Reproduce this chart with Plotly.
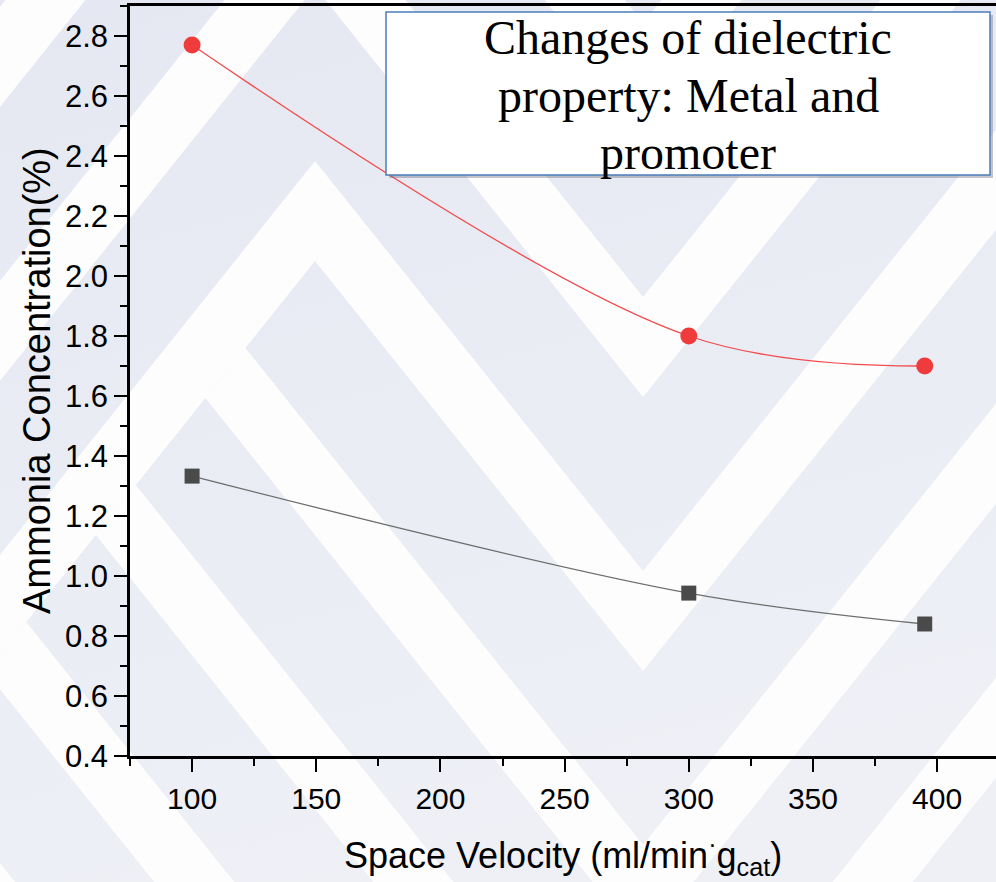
import base64
import plotly.graph_objects as go

# ---------------- data ----------------
space_velocity = [100, 300, 395]
metal_promoter = [2.77, 1.80, 1.70]     # red circles
base_catalyst = [1.333, 0.943, 0.84]    # dark squares

x_range = [75, 423.7]
y_range = [0.4, 2.9]
y_ticks = [0.4, 0.6, 0.8, 1.0, 1.2, 1.4, 1.6, 1.8, 2.0, 2.2, 2.4, 2.6, 2.8]
x_ticks = [100, 150, 200, 250, 300, 350, 400]

title_lines = ["Changes of dielectric", "property: Metal and", "promoter"]

# ---------------- figure geometry ----------------
W, H = 996, 882
ML, MR, MT, MB = 130, 0, 6, 126
PW, PH = W - ML - MR, H - MT - MB


def px_to_paper(px, py):
    return (px - ML) / PW, (H - MB - py) / PH


# ---------------- background watermark (decoration) ----------------
K = 1.25       # slope of the chevron stripes
PEAK = 315     # x of the ^ apexes
VAL = 643      # x of the V vertices
T = 100        # vertical thickness of white stripes
P = 274        # vertical period
XR = 1100


def poly(pts):
    return '<polygon points="%s" fill="#fdfdfe"/>' % " ".join("%.1f,%.1f" % p for p in pts)


polys = []
for apex in [161 - 2 * P, 161 - P, 161]:
    polys.append(poly([(-200, apex + K * (PEAK + 200)), (PEAK, apex), (PEAK, apex + T),
                       (-200, apex + T + K * (PEAK + 200))]))
    yv = apex + K * (VAL - PEAK)
    polys.append(poly([(PEAK, apex), (VAL, yv), (VAL, yv + T), (PEAK, apex + T)]))
    polys.append(poly([(VAL, yv), (XR, yv - K * (XR - VAL)), (XR, yv + T - K * (XR - VAL)),
                       (VAL, yv + T)]))
for j in range(1, 5):
    top = 161 + j * P
    xu = PEAK + (T - j * P) / (2 * K)
    xl = PEAK - j * P / (2 * K)
    yu = top + K * (xu - PEAK)
    yl = top + T + K * (xl - PEAK)
    yv = top + K * (VAL - PEAK)
    polys.append(poly([(xu, yu), (VAL, yv), (VAL, yv + T), (xl, yl)]))
    polys.append(poly([(VAL, yv), (XR, yv - K * (XR - VAL)), (XR, yv + T - K * (XR - VAL)),
                       (VAL, yv + T)]))

svg = ('<svg xmlns="http://www.w3.org/2000/svg" width="%d" height="%d" viewBox="0 0 %d %d">'
       '<defs><linearGradient id="g" x1="0" y1="0" x2="0.3" y2="1">'
       '<stop offset="0" stop-color="#e5e8f2"/><stop offset="1" stop-color="#eef0f6"/>'
       '</linearGradient></defs>'
       '<rect width="%d" height="%d" fill="url(#g)"/>%s</svg>') % (W, H, W, H, W, H, "".join(polys))
bg_src = "data:image/svg+xml;base64," + base64.b64encode(svg.encode()).decode()

# ---------------- traces ----------------
fig = go.Figure()
fig.add_trace(go.Scatter(
    x=space_velocity, y=base_catalyst, mode="lines+markers",
    line=dict(color="#6e6e6e", width=1.3, shape="spline", smoothing=1),
    marker=dict(symbol="square", size=15, color="#4a4a4a"),
    showlegend=False, cliponaxis=False))
fig.add_trace(go.Scatter(
    x=space_velocity, y=metal_promoter, mode="lines+markers",
    line=dict(color="#f24b4b", width=1.3, shape="spline", smoothing=1),
    marker=dict(symbol="circle", size=17, color="#ef3b3b"),
    showlegend=False, cliponaxis=False))

axis_font = dict(family="Liberation Sans, Arial, sans-serif", color="#000000")

bx0, by0 = px_to_paper(386, 175)
bx1, by1 = px_to_paper(990, 12)
sx0, sy0 = px_to_paper(389, 178)
sx1, sy1 = px_to_paper(993, 15)
shapes = [
    dict(type="rect", xref="paper", yref="paper", x0=sx0, y0=sy0, x1=sx1, y1=sy1,
         line=dict(width=0), fillcolor="rgba(90,90,110,0.35)", layer="above"),
    dict(type="rect", xref="paper", yref="paper", x0=bx0, y0=by0, x1=bx1, y1=by1,
         line=dict(color="#4a7ebb", width=1.5), fillcolor="#ffffff", layer="above"),
]

annotations = []
cx, _ = px_to_paper(688, 0)
for i, line in enumerate(title_lines):
    _, cy = px_to_paper(0, 38 + 57 * i)
    annotations.append(dict(xref="paper", yref="paper", x=cx, y=cy, xanchor="center",
                            yanchor="middle", text=line, showarrow=False,
                            font=dict(family="Liberation Serif, Times New Roman, serif",
                                      size=48, color="#000000")))
tx, ty = px_to_paper(563, 855)
annotations.append(dict(xref="paper", yref="paper", x=tx, y=ty, xanchor="center",
                        yanchor="middle", showarrow=False,
                        text="Space Velocity (ml/min<sup>·</sup>g<sub>cat</sub>)",
                        font=dict(size=36, **axis_font)))
tx, ty = px_to_paper(37, 381)
annotations.append(dict(xref="paper", yref="paper", x=tx, y=ty, xanchor="center",
                        yanchor="middle", showarrow=False, textangle=-90,
                        text="Ammonia Concentration(%)",
                        font=dict(size=38, **axis_font)))

fig.update_layout(
    width=W, height=H,
    margin=dict(l=ML, r=MR, t=MT, b=MB, pad=0),
    paper_bgcolor="#ffffff", plot_bgcolor="rgba(0,0,0,0)",
    images=[dict(source=bg_src, xref="paper", yref="paper",
                 x=-ML / PW, y=1 + MT / PH, sizex=W / PW, sizey=H / PH,
                 xanchor="left", yanchor="top", sizing="stretch", layer="below")],
    shapes=shapes, annotations=annotations,
    xaxis=dict(range=x_range, tickmode="array", tickvals=x_ticks,
               ticktext=[str(v) for v in x_ticks],
               showgrid=False, zeroline=False, showline=True, linecolor="#000000",
               linewidth=2.5, mirror=True, ticks="outside", ticklen=13, tickwidth=2,
               tickcolor="#000000", tickfont=dict(size=30, **axis_font),
               ticklabelstandoff=1,
               minor=dict(dtick=25, tick0=75, ticks="outside", ticklen=7, tickwidth=2,
                          tickcolor="#000000", showgrid=False)),
    yaxis=dict(range=y_range, tickmode="array", tickvals=y_ticks,
               ticktext=["%.1f" % v for v in y_ticks],
               showgrid=False, zeroline=False, showline=True, linecolor="#000000",
               linewidth=2.5, ticks="outside", ticklen=13, tickwidth=2,
               tickcolor="#000000", tickfont=dict(size=31, **axis_font),
               ticklabelstandoff=0,
               minor=dict(dtick=0.1, tick0=0.4, ticks="outside", ticklen=7, tickwidth=2,
                          tickcolor="#000000", showgrid=False)),
)

fig.write_html("out.html")
